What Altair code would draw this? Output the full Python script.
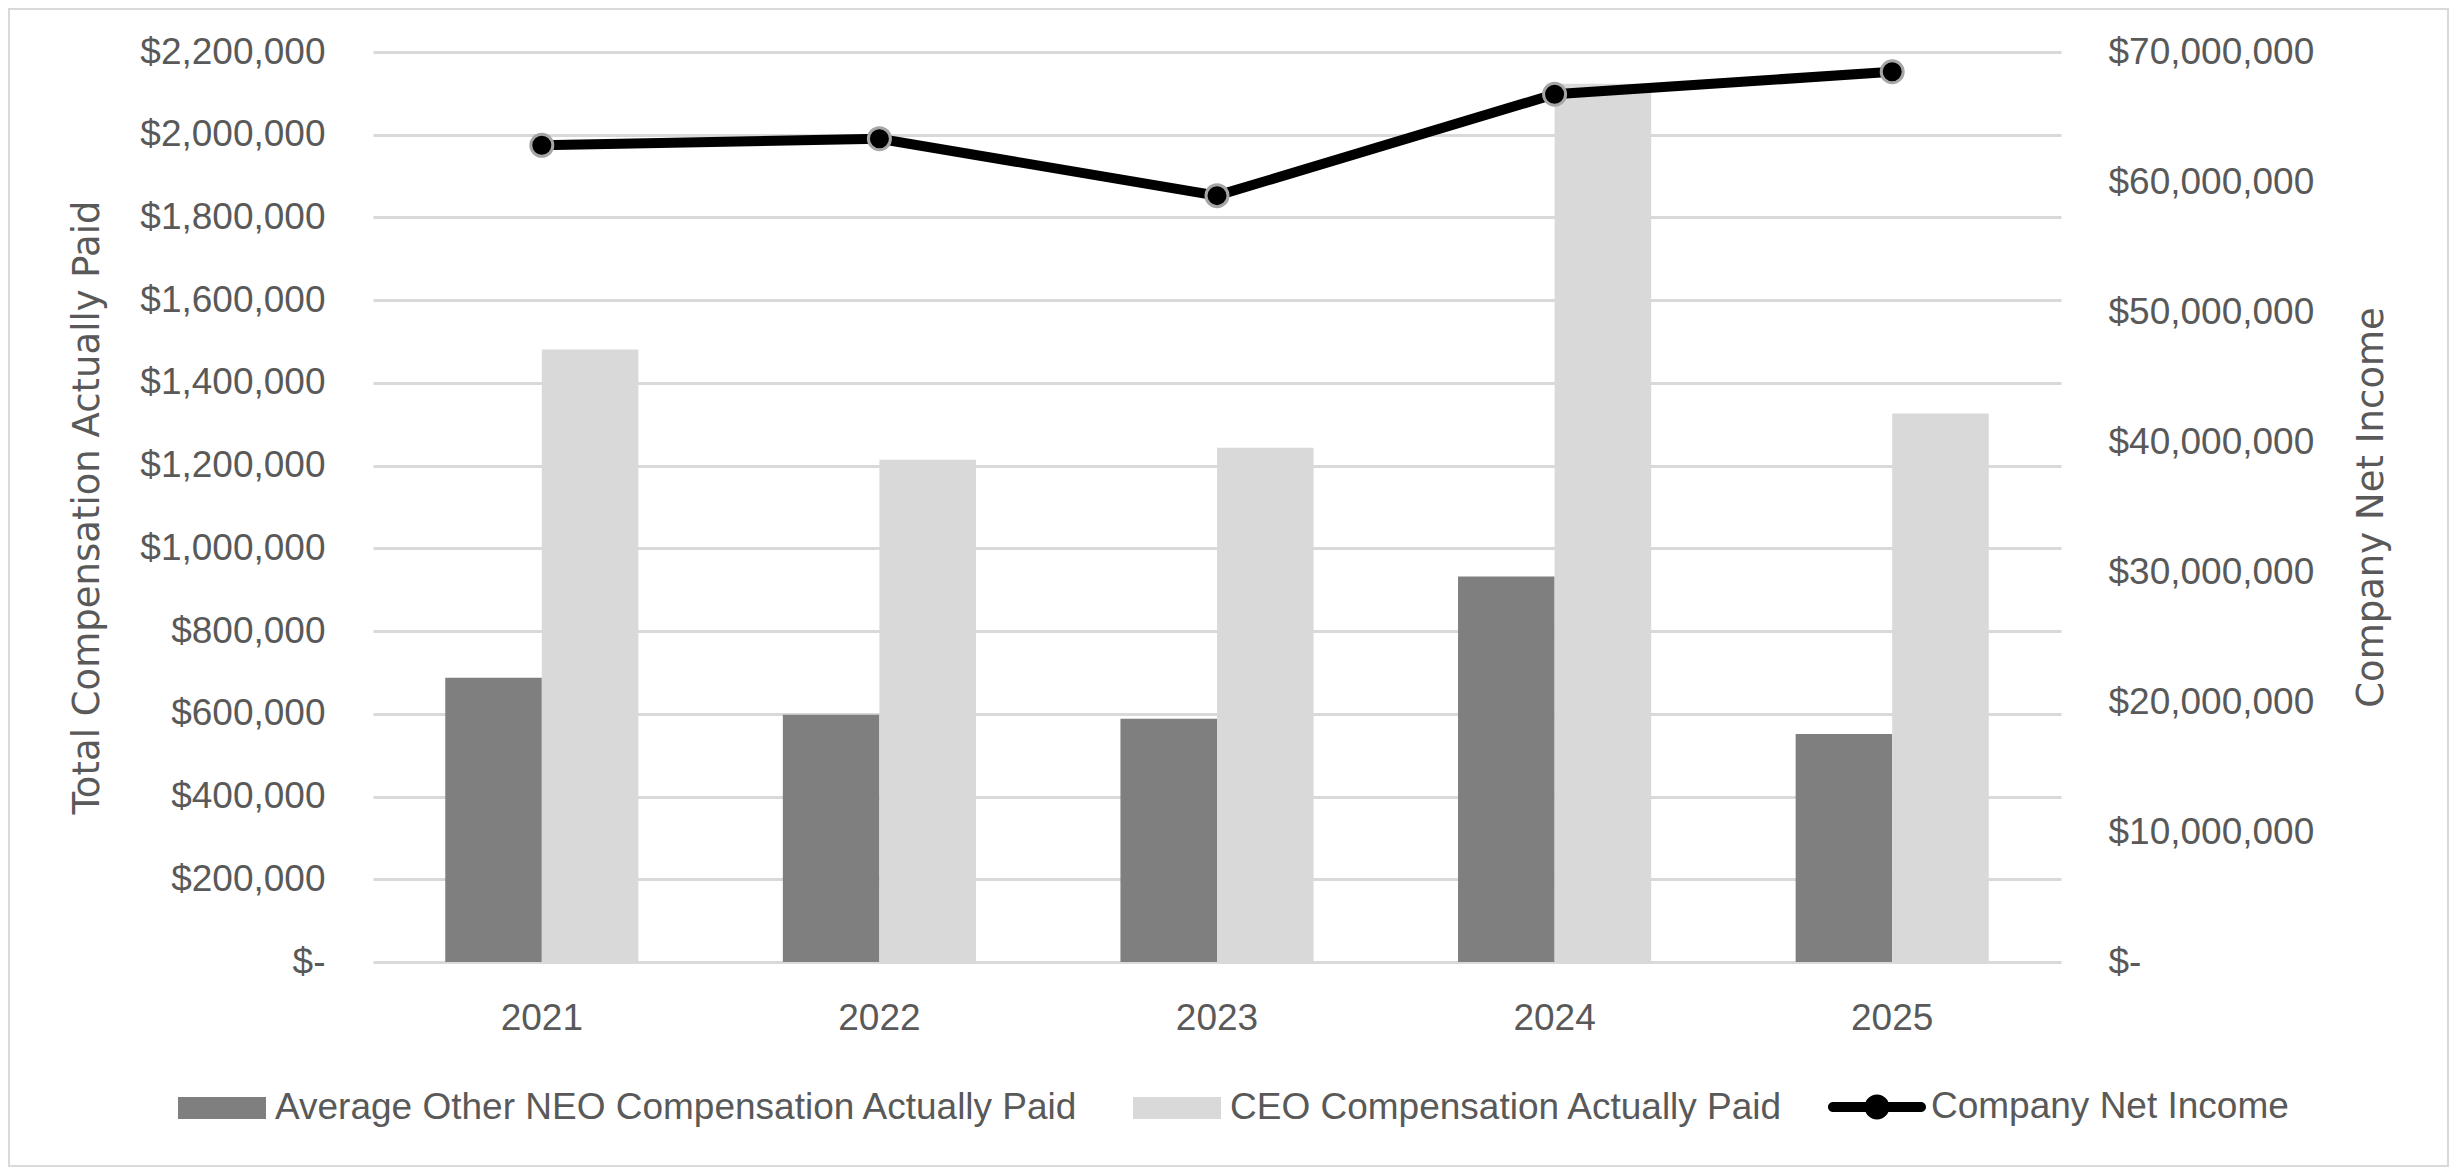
import altair as alt
import pandas as pd

# ---- data ----
years = ["2021", "2022", "2023", "2024", "2025"]
neo_cap = [687000, 598000, 588000, 932000, 551000]
ceo_cap = [1481000, 1214500, 1243500, 2123000, 1326000]
net_income = [62820000, 63330000, 58950000, 66750000, 68480000]

bar_series = ["Average Other NEO Compensation Actually Paid", "CEO Compensation Actually Paid"]
bar_colors = ["#7f7f7f", "#d9d9d9"]
line_series = "Company Net Income"

left_ticks = list(range(0, 2200001, 200000))
right_ticks = list(range(0, 70000001, 10000000))

bar_df = pd.DataFrame({
    "year": years * 2,
    "series": [bar_series[0]] * len(years) + [bar_series[1]] * len(years),
    "value": neo_cap + ceo_cap,
})
ni_df = pd.DataFrame({"year": years, "net_income": net_income, "line_series": [line_series] * len(years)})

TXT = "#595959"
LBL_FONT = "Liberation Sans"
TTL_FONT = "DejaVu Sans"
W, H = 1688, 910
PAD = {"left": 365, "top": 44, "right": 388, "bottom": 205}

x_axis = alt.Axis(title=None, labelAngle=0, labelFont=LBL_FONT, labelFontSize=37, labelColor=TXT,
                  labelPadding=38, ticks=False, domain=False, grid=False)
x_enc = alt.X("year:N", sort=years, axis=x_axis,
              scale=alt.Scale(paddingInner=0.428, paddingOuter=0.214))

money_expr = "datum.value == 0 ? '$-' : '$' + format(datum.value, ',')"

bars = alt.Chart(bar_df).mark_bar().encode(
    x=x_enc,
    xOffset=alt.XOffset("series:N", sort=bar_series,
                        scale=alt.Scale(domain=bar_series, paddingInner=0, paddingOuter=0)),
    y=alt.Y("value:Q", scale=alt.Scale(domain=[0, 2200000], nice=False, zero=True),
            axis=alt.Axis(values=left_ticks, labelExpr=money_expr, labelFont=LBL_FONT, labelFontSize=37,
                          labelColor=TXT, labelPadding=48, labelLimit=1000, ticks=False, domain=False,
                          grid=True, gridColor="#d9d9d9", gridWidth=3,
                          title="Total Compensation Actually Paid", titleFont=TTL_FONT,
                          titleFontSize=37, titleFontWeight="normal", titleColor=TXT,
                          titleAngle=270, titleX=-275, titleY=H / 2, titleBaseline="alphabetic",
                          titleAlign="center", titleLimit=2000)),
    color=alt.Color("series:N", scale=alt.Scale(domain=bar_series, range=bar_colors),
                    legend=alt.Legend(title=None, orient="none", direction="horizontal",
                                      legendX=-195, legendY=1012, padding=0,
                                      symbolType="M-1,-0.25H1V0.25H-1Z", symbolSize=7744,
                                      symbolStrokeWidth=0, labelFont=LBL_FONT, labelFontSize=37,
                                      labelColor=TXT, labelOffset=9, labelLimit=2000,
                                      columnPadding=54)),
)

right_axis = alt.Axis(orient="right", values=right_ticks, labelExpr=money_expr, labelFont=LBL_FONT,
                      labelFontSize=37, labelColor=TXT, labelPadding=47, labelLimit=1000, ticks=False,
                      domain=False, grid=False, title="Company Net Income", titleFont=TTL_FONT,
                      titleFontSize=37, titleFontWeight="normal", titleColor=TXT, titleAngle=270,
                      titleX=321, titleY=H / 2, titleBaseline="alphabetic", titleAlign="center",
                      titleLimit=2000)
y_right = alt.Y("net_income:Q", scale=alt.Scale(domain=[0, 70000000], nice=False, zero=True), axis=right_axis)

line = alt.Chart(ni_df).mark_line(color="black", strokeWidth=10, strokeCap="round").encode(
    x=x_enc, y=y_right)

legend_path = ("M-0.898,-0.102H0.898A0.102,0.102 0 0,1 0.898,0.102H-0.898A0.102,0.102 0 0,1 -0.898,-0.102Z"
               "M-0.255,0A0.255,0.255 0 1,1 0.255,0A0.255,0.255 0 1,1 -0.255,0Z")

points = alt.Chart(ni_df).mark_circle(size=484, opacity=1, stroke="#a6a6a6", strokeWidth=3).encode(
    x=x_enc, y=y_right,
    fill=alt.Fill("line_series:N", scale=alt.Scale(domain=[line_series], range=["black"]),
                  legend=alt.Legend(title=None, orient="none", direction="horizontal",
                                    legendX=1455, legendY=1006, padding=0,
                                    symbolType=legend_path, symbolSize=9604, symbolStrokeWidth=0,
                                    labelFont=LBL_FONT, labelFontSize=37, labelColor=TXT,
                                    labelOffset=5, labelLimit=2000)),
)

border = alt.Chart(pd.DataFrame({"b": [0]})).mark_rect(filled=False, stroke="#d9d9d9", strokeWidth=2).encode(
    x=alt.value(-PAD["left"] + 1), x2=alt.value(W + PAD["right"] - 1),
    y=alt.value(-PAD["top"] + 1), y2=alt.value(H + PAD["bottom"] - 1))

right = alt.layer(line, points)

chart = alt.layer(border, bars, right).resolve_scale(y="independent").properties(
    width=W, height=H,
    autosize=alt.AutoSizeParams(type="none"),
    padding=PAD,
    background="white",
).configure_view(strokeWidth=0)

chart.save("out.html", embed_options={"renderer": "svg", "actions": False})
